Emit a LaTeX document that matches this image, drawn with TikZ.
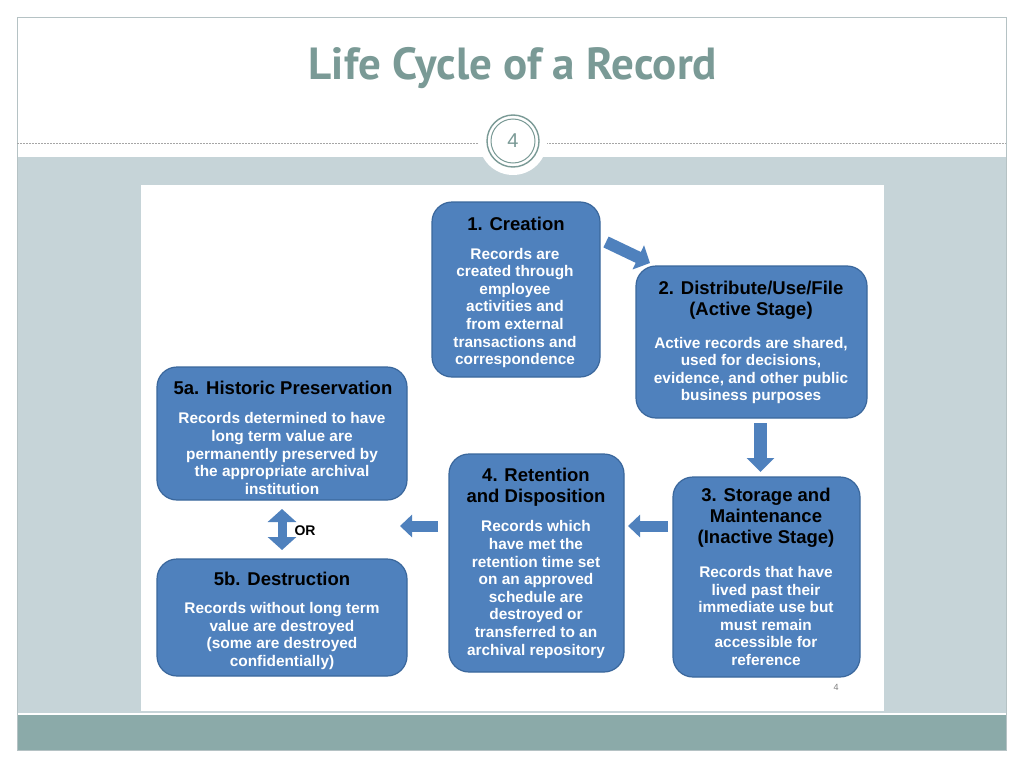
\documentclass[tikz,border=0pt]{standalone}
\usepackage{fontspec}
\setmainfont{Liberation Sans}
\newfontfamily\titlefont{PT Sans}
\usetikzlibrary{arrows.meta}
\definecolor{boxblue}{HTML}{4F81BD}
\definecolor{boxedge}{HTML}{3A679C}
\definecolor{band}{HTML}{C6D4D8}
\definecolor{tealband}{HTML}{8BAAA9}
\definecolor{titlec}{HTML}{7A9A96}
\definecolor{framec}{HTML}{B5C2C4}
\begin{document}
\begin{tikzpicture}[x=1pt,y=-1pt,
  box/.style={draw=boxedge, line width=1.2pt, fill=boxblue, rounded corners=20pt, inner sep=0pt},
  head/.style={font=\fontsize{18.5}{21}\selectfont\bfseries, text=black, align=center, inner sep=0pt},
  body/.style={font=\fontsize{15.4}{17.6}\selectfont\bfseries, text=white, align=center, inner sep=0pt},
  blk/.style={draw=boxblue, line width=12pt, -{Triangle[length=13pt,width=25pt]}},
]
\useasboundingbox[fill=white] (0,0) rectangle (1024,768);
% slide frame
\fill[band] (17,157) rectangle (1006,713);
\fill[tealband] (17,715) rectangle (1006,750);
\draw[framec, line width=0.8pt] (17,17) rectangle (1006,750);
\draw[gray!70, line width=0.6pt, dash pattern=on 2pt off 1pt] (17,143) -- (480,143);
\draw[gray!70, line width=0.6pt, dash pattern=on 2pt off 1pt] (546,143) -- (1006,143);
\fill[white] (513,141) circle (34);
\draw[titlec, line width=1.4pt] (513,141) circle (26);
\draw[titlec, line width=1.0pt] (513,141) circle (22);
\node[text=titlec, font=\fontsize{20}{20}\selectfont] (pagenum) at (513,141) {4};
\node[text=titlec, font=\titlefont\fontsize{45}{46}\selectfont\bfseries] (title) at (513,68) {Life Cycle of a Record};
% picture
\fill[white] (141,185) rectangle (884,711);
\node[text=gray, font=\fontsize{9}{9}\selectfont] (small4) at (836,687) {4};
% boxes
\node[box, minimum width=168pt, minimum height=175pt] (b1) at (516,289.5) {};
\node[box, minimum width=231pt, minimum height=152pt] (b2) at (751.5,342) {};
\node[box, minimum width=250pt, minimum height=133pt] (b5a) at (282,433.5) {};
\node[box, minimum width=175pt, minimum height=218pt] (b4) at (536.5,563) {};
\node[box, minimum width=187pt, minimum height=200pt] (b3) at (766.5,577) {};
\node[box, minimum width=250pt, minimum height=117pt] (b5b) at (282,617.5) {};
% texts
\node[head] (h1) at (516,224) {1. Creation};
\node[body] (t1) at (515,308) {Records are\\created through\\employee\\activities and\\from external\\transactions and\\correspondence};
\node[head] (h2) at (751,300.5) {2. Distribute/Use/File\\(Active Stage)};
\node[body] (t2) at (751,370.5) {Active records are shared,\\used for decisions,\\evidence, and other public\\business purposes};
\node[head] (h5a) at (283,388) {5a. Historic Preservation};
\node[body] (t5a) at (282,453.5) {Records determined to have\\long term value are\\permanently preserved by\\the appropriate archival\\institution};
\node[head] (h4) at (536,487) {4. Retention\\and Disposition};
\node[body] (t4) at (536,589.5) {Records which\\have met the\\retention time set\\on an approved\\schedule are\\destroyed or\\transferred to an\\archival repository};
\node[head] (h3) at (766,517.5) {3. Storage and\\Maintenance\\(Inactive Stage)};
\node[body] (t3) at (766,616) {Records that have\\lived past their\\immediate use but\\must remain\\accessible for\\reference};
\node[head] (h5b) at (282,579) {5b. Destruction};
\node[body] (t5b) at (282,636) {Records without long term\\value are destroyed\\(some are destroyed\\confidentially)};
% arrows
\coordinate (a12s) at (606,242);
\coordinate (a12e) at (650,263);
\draw[blk, line width=12pt, -{Triangle[length=13pt,width=26pt]}] (a12s) -- (a12e);
\coordinate (a23s) at (760.5,423);
\coordinate (a23e) at (760.5,472);
\draw[blk, line width=13pt, -{Triangle[length=14pt,width=27pt]}] (a23s) -- (a23e);
\coordinate (a34s) at (668,526);
\coordinate (a34e) at (628,526);
\draw[blk, line width=11pt, -{Triangle[length=12pt,width=22pt]}] (a34s) -- (a34e);
\coordinate (a45s) at (438,526);
\coordinate (a45e) at (400,526);
\draw[blk, line width=11pt, -{Triangle[length=12pt,width=22pt]}] (a45s) -- (a45e);
\coordinate (orA) at (282,509);
\coordinate (orB) at (282,550);
\draw[blk, line width=9pt, {Triangle[length=13pt,width=28pt]}-{Triangle[length=13pt,width=28pt]}] (orA) -- (orB);
\node[font=\fontsize{14}{14}\selectfont\bfseries, inner sep=0pt] (or) at (305,531) {OR};
\end{tikzpicture}
\end{document}
